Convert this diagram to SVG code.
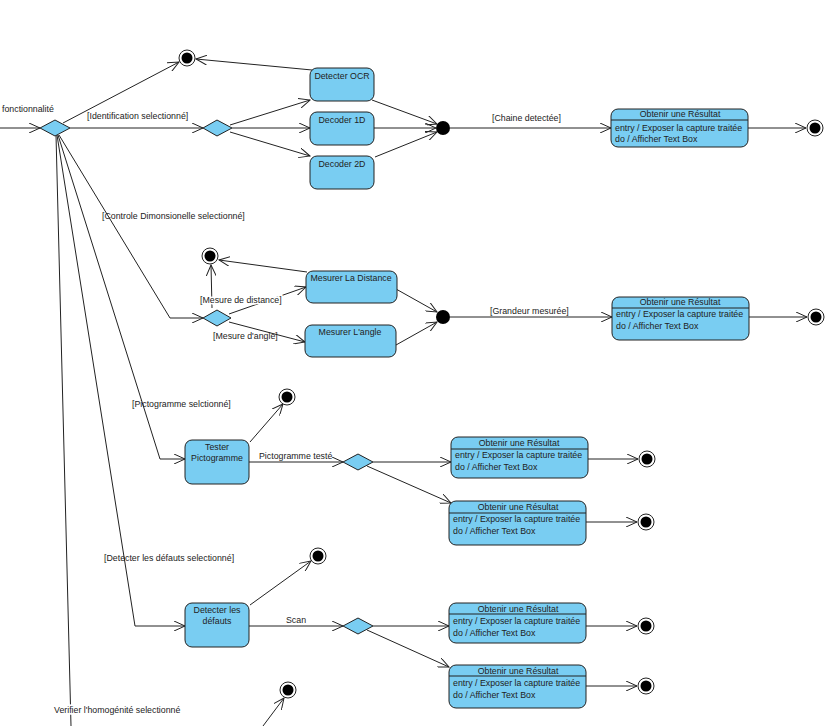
<svg xmlns="http://www.w3.org/2000/svg" width="840" height="726" viewBox="0 0 840 726">
<style>
.n{fill:#79cdf2;stroke:#222;stroke-width:1}
.t{font-family:"Liberation Sans",Arial,sans-serif;font-size:8.8px;fill:#222}
.c{text-anchor:middle}
.l{fill:none;stroke:#222;stroke-width:1}
</style>
<defs>
<marker id="a" markerWidth="12" markerHeight="10" refX="11" refY="5" orient="auto" markerUnits="userSpaceOnUse"><path d="M0,0 L11,5 L0,10" fill="none" stroke="#222"/></marker>
<g id="fin"><circle r="8" fill="#fff" stroke="#222"/><circle r="5.5" fill="#000"/></g>
</defs>
<rect width="840" height="726" fill="#fff"/>
<g id="connectors" class="l" marker-end="url(#a)">
<path d="M0,128 L40,128"/>
<path d="M70,128 L203,128"/>
<path d="M63,123 L179,62"/>
<path d="M230,125 L310,100"/>
<path d="M232,128 L310,128"/>
<path d="M230,132 L310,156"/>
<path d="M312,70 L196,59"/>
<path d="M372,100 L437,124"/>
<path d="M374,128 L436,128"/>
<path d="M375,157 L437,132"/>
<path d="M450,128 L611,128"/>
<path d="M748,128 L806,128"/>
<path d="M59,135 L170,318 L203,318"/>
<path d="M212,308 L211,265"/>
<path d="M229,314 L306,287"/>
<path d="M229,322 L305,342"/>
<path d="M307,272 L219,260"/>
<path d="M396,289 L437,312"/>
<path d="M396,345 L437,322"/>
<path d="M450,317 L612,317"/>
<path d="M749,317 L807,317"/>
<path d="M58,135 L160,459 L185,459"/>
<path d="M250,442 L283,404"/>
<path d="M249,462 L343,462"/>
<path d="M373,462 L451,462"/>
<path d="M367,466 L451,503"/>
<path d="M588,459 L638,459"/>
<path d="M586,522 L637,522"/>
<path d="M57,135 L135,626 L185,626"/>
<path d="M250,605 L311,561"/>
<path d="M249,626 L343,626"/>
<path d="M373,626 L449,626"/>
<path d="M367,630 L449,667"/>
<path d="M586,626 L637,626"/>
<path d="M586,686 L637,686"/>
<path d="M56,135 L71,726" marker-end="none"/>
<path d="M263,726 L284,698"/>
</g>
<g id="labels" class="t">
<text x="2" y="112">fonctionnalité</text>
<text x="87" y="119">[Identification selectionné]</text>
<text x="102" y="219">[Controle Dimonsionelle selectionné]</text>
<text x="492" y="121">[Chaine detectée]</text>
<text x="200" y="303" fill="#222" stroke="#fff" stroke-width="3" paint-order="stroke">[Mesure de distance]</text>
<text x="213" y="339">[Mesure d'angle]</text>
<text x="490" y="314">[Grandeur mesurée]</text>
<text x="132" y="407">[Pictogramme selctionné]</text>
<text x="259" y="459">Pictogramme testé</text>
<text x="104" y="561">[Detecter les défauts selectionné]</text>
<text x="286" y="623">Scan</text>
<text x="54" y="713" stroke="#fff" stroke-width="3" paint-order="stroke">Verifier l'homogénité selectionné</text>
</g>
<g id="decision1"><path class="n" d="M40,128 L55,120 L70,128 L55,136Z"/></g>
<g id="decision2"><path class="n" d="M203,128 L217,120 L232,128 L217,136Z"/></g>
<g id="decision3"><path class="n" d="M203,318 L217,310 L231,318 L217,326Z"/></g>
<g id="decision4"><path class="n" d="M343,462 L358,454 L373,462 L358,470Z"/></g>
<g id="decision5"><path class="n" d="M343,626 L358,618 L373,626 L358,634Z"/></g>
<g id="join1"><circle cx="443" cy="128" r="7" fill="#000"/></g>
<g id="join2"><circle cx="443" cy="317" r="7" fill="#000"/></g>
<g id="finals">
<use href="#fin" x="187" y="58"/><use href="#fin" x="815" y="128"/>
<use href="#fin" x="210" y="256"/><use href="#fin" x="816" y="317"/>
<use href="#fin" x="287" y="397"/><use href="#fin" x="647" y="459"/><use href="#fin" x="646" y="522"/>
<use href="#fin" x="318" y="556"/><use href="#fin" x="646" y="626"/><use href="#fin" x="646" y="686"/>
<use href="#fin" x="288" y="690"/>
</g>
<g id="ocr"><rect class="n" x="310" y="68" width="64" height="33" rx="7"/><text class="t c" x="342" y="79">Detecter OCR</text></g>
<g id="d1"><rect class="n" x="310" y="112" width="64" height="33" rx="7"/><text class="t c" x="342" y="123">Decoder 1D</text></g>
<g id="d2"><rect class="n" x="310" y="156" width="64" height="33" rx="7"/><text class="t c" x="342" y="167">Decoder 2D</text></g>
<g id="dist"><rect class="n" x="306" y="271" width="91" height="32" rx="7"/><text class="t c" x="351" y="281">Mesurer La Distance</text></g>
<g id="angle"><rect class="n" x="305" y="325" width="91" height="32" rx="7"/><text class="t c" x="350" y="335">Mesurer L'angle</text></g>
<g id="picto"><rect class="n" x="185" y="440" width="64" height="44" rx="7"/><text class="t c" x="217" y="450">Tester</text><text class="t c" x="217" y="461">Pictogramme</text></g>
<g id="defauts"><rect class="n" x="185" y="603" width="64" height="44" rx="7"/><text class="t c" x="217" y="613">Detecter les</text><text class="t c" x="217" y="624">défauts</text></g>
<g id="res1"><rect class="n" x="611" y="109" width="137" height="38" rx="7"/><path class="l" d="M611,120 H748"/><text class="t c" x="680" y="117">Obtenir une Résultat</text><text class="t" x="615" y="131">entry / Exposer la capture traitée</text><text class="t" x="615" y="142">do  / Afficher Text Box</text></g>
<g id="res2"><rect class="n" x="612" y="297" width="137" height="43" rx="7"/><path class="l" d="M612,308 H749"/><text class="t c" x="680" y="305">Obtenir une Résultat</text><text class="t" x="616" y="317">entry / Exposer la capture traitée</text><text class="t" x="616" y="329">do  / Afficher Text Box</text></g>
<g id="res3"><rect class="n" x="451" y="437" width="137" height="41" rx="7"/><path class="l" d="M451,449 H588"/><text class="t c" x="519" y="446">Obtenir une Résultat</text><text class="t" x="455" y="458">entry / Exposer la capture traitée</text><text class="t" x="455" y="470">do  / Afficher Text Box</text></g>
<g id="res4"><rect class="n" x="449" y="501" width="137" height="44" rx="7"/><path class="l" d="M449,513 H586"/><text class="t c" x="518" y="510">Obtenir une Résultat</text><text class="t" x="453" y="522">entry / Exposer la capture traitée</text><text class="t" x="453" y="534">do  / Afficher Text Box</text></g>
<g id="res5"><rect class="n" x="449" y="603" width="137" height="40" rx="7"/><path class="l" d="M449,614 H586"/><text class="t c" x="518" y="612">Obtenir une Résultat</text><text class="t" x="453" y="624">entry / Exposer la capture traitée</text><text class="t" x="453" y="636">do  / Afficher Text Box</text></g>
<g id="res6"><rect class="n" x="449" y="665" width="137" height="43" rx="7"/><path class="l" d="M449,676 H586"/><text class="t c" x="518" y="674">Obtenir une Résultat</text><text class="t" x="453" y="686">entry / Exposer la capture traitée</text><text class="t" x="453" y="698">do  / Afficher Text Box</text></g>
</svg>
